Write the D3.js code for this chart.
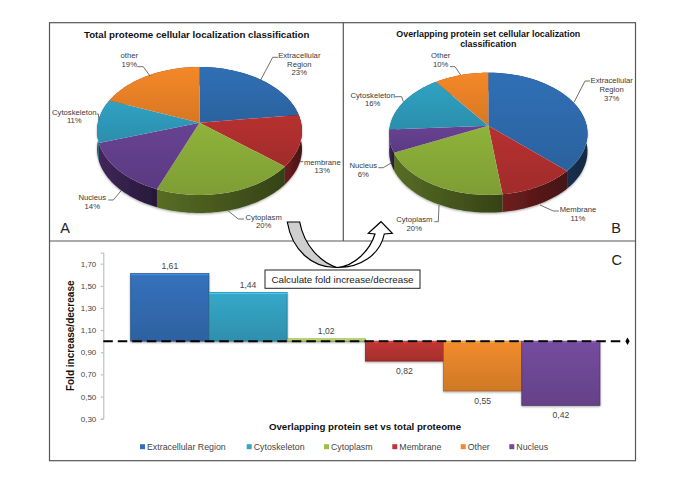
<!DOCTYPE html>
<html>
<head>
<meta charset="utf-8">
<script src="https://cdn.jsdelivr.net/npm/d3@7"></script>
<style>
  html, body { margin: 0; padding: 0; background: #fff; }
  svg { display: block; }
  text { font-family: "Liberation Sans", Arial, sans-serif; fill: #3a3a3a; }
</style>
</head>
<body>
<svg id="chart" width="685" height="484"></svg>
<script>
// Pie A data
const totalNames = ["Extracellular Region", "membrane", "Cytoplasm", "Nucleus", "Cytoskeleton", "other"];
const totalValues = [23, 13, 20, 14, 11, 19];
const totalColors = ["#2f6cb0", "#b2302f", "#8bae39", "#65408f", "#2f9dbe", "#ee8427"];

// Pie B data
const overlapNames = ["Extracellular Region", "Membrane", "Cytoplasm", "Nucleus", "Cytoskeleton", "Other"];
const overlapValues = [37, 11, 20, 6, 16, 10];
const overlapColors = ["#2f6cb0", "#b2302f", "#8bae39", "#65408f", "#2f9dbe", "#ee8427"];

// Bar data
const foldNames = ["Extracellular Region", "Cytoskeleton", "Cytoplasm", "Membrane", "Other", "Nucleus"];
const foldValues = [1.61, 1.44, 1.02, 0.82, 0.55, 0.42];
const foldColors = ["#3470b8", "#35a5c6", "#9dbf4a", "#bd3533", "#ee8a2c", "#744b9c"];
const foldTicks = [1.7, 1.5, 1.3, 1.1, 0.9, 0.7, 0.5, 0.3];

const svg = d3.select("#chart");
const defs = svg.append("defs");
const comma = d3.format(".2f");
const decimal = v => comma(v).replace(".", ",");

// Soft shadow under the bars and pies
const shadow = defs.append("filter").attr("id", "shadow")
  .attr("x", "-10%").attr("y", "-10%").attr("width", "120%").attr("height", "125%");
shadow.append("feDropShadow")
  .attr("dx", 0).attr("dy", 1).attr("stdDeviation", 1.2)
  .attr("flood-color", "#000").attr("flood-opacity", 0.35);

function gradient(id, x2, y2, stops) {
  const g = defs.append("linearGradient").attr("id", id)
    .attr("x1", 0).attr("y1", 0).attr("x2", x2).attr("y2", y2);
  stops.forEach(s => g.append("stop").attr("offset", s[0]).attr("stop-color", s[1]));
  return "url(#" + id + ")";
}

// Frame
const frame = svg.append("g").attr("fill", "none").attr("stroke", "#565656").attr("stroke-width", 1.2);
frame.append("rect").attr("x", 49.5).attr("y", 22.7).attr("width", 586).attr("height", 438);
frame.append("line").attr("x1", 343.3).attr("x2", 343.3).attr("y1", 22.7).attr("y2", 241);
frame.append("line").attr("x1", 49.5).attr("x2", 635.5).attr("y1", 241).attr("y2", 241);

// Tilted pie: the disc goes through a small perspective so that the apex sits above the ellipse centre
function drawPie(id, names, values, colors, o) {
  const g = svg.append("g");
  const project = (a, r) => {
    const u = Math.sin(a) * r, v = -Math.cos(a) * r;
    const s = 1 / (1 - o.p * v);
    return [o.cx + o.a * u * s, o.cy + o.b * v * s];
  };
  const line = d3.line();
  const slices = d3.pie().sort(null)(values);

  // Rim first, the top faces then hide its back half
  const rim = g.append("g").attr("filter", "url(#shadow)");
  slices.forEach((d, i) => {
    const steps = d3.range(0, 41).map(k => d.startAngle + (d.endAngle - d.startAngle) * k / 40);
    const top = steps.map(a => project(a, 1));
    const bottom = top.map(p => [p[0], p[1] + o.depth]).reverse();
    const c = d3.color(colors[i]);
    rim.append("path")
      .attr("d", line(top.concat(bottom)) + "Z")
      .attr("fill", gradient(id + "-rim-" + i, 1, 0, [[0, c.darker(1.3)], [1, c.darker(2.7)]]));
  });

  slices.forEach((d, i) => {
    const steps = d3.range(0, 41).map(k => d.startAngle + (d.endAngle - d.startAngle) * k / 40);
    const c = d3.color(colors[i]);
    g.append("path")
      .attr("d", line([[o.cx, o.cy]].concat(steps.map(a => project(a, 1)))) + "Z")
      .attr("fill", gradient(id + "-top-" + i, 0, 1, [[0, c.brighter(0.08)], [1, c.darker(0.28)]]));
  });

  // Leader lines and data labels
  o.labels.forEach((l, i) => {
    g.append("path").attr("d", line(l.leader))
      .attr("fill", "none").attr("stroke", "#333").attr("stroke-width", 0.7);
    const lines = l.text.concat([values[i] + "%"]);
    const t = g.append("text").attr("text-anchor", "middle").attr("font-size", 7.7);
    lines.forEach((s, k) => {
      t.append("tspan").attr("x", l.x).attr("y", l.y + k * 8.7 + 2.8).text(s);
    });
  });
}

// Label layout, pie A
drawPie("a", totalNames, totalValues, totalColors, {
  cx: 199.5, cy: 122.7, a: 101.6, b: 62.9, p: 0.13, depth: 18,
  labels: [
    { text: ["Extracellular", "Region"], x: 299.3, y: 55, leader: [[278, 57.3], [272.7, 57.3], [260.7, 80]] },
    { text: ["membrane"], x: 322.3, y: 161.7, leader: [[303.3, 161.7], [300.7, 161.7], [297.7, 156]] },
    { text: ["Cytoplasm"], x: 263.7, y: 216.7, leader: [[244, 219], [238.3, 219], [228.3, 211]] },
    { text: ["Nucleus"], x: 92.3, y: 197, leader: [[108.3, 200], [113.3, 200], [121.7, 190]] },
    { text: ["Cytoskeleton"], x: 74.3, y: 111.7, leader: [[96.7, 114], [98.3, 114], [99, 120]] },
    { text: ["other"], x: 129.3, y: 55.3, leader: [[137.3, 66.7], [143.3, 66.7], [150, 76]] }
  ]
});

// Label layout, pie B
drawPie("b", overlapNames, overlapValues, overlapColors, {
  cx: 488.3, cy: 125.7, a: 98.3, b: 60, p: 0.133, depth: 17.7,
  labels: [
    { text: ["Extracellular", "Region"], x: 611.7, y: 80.3, leader: [[590, 81], [585, 81], [574, 102.3]] },
    { text: ["Membrane"], x: 578, y: 209.3, leader: [[559, 211], [553.3, 211], [540, 205]] },
    { text: ["Cytoplasm"], x: 414.3, y: 219.3, leader: [[434.3, 221.7], [438.3, 221.7], [439, 205]] },
    { text: ["Nucleus"], x: 363.3, y: 165.3, leader: [[378.3, 167.7], [383.3, 167.7], [393.3, 161.7]] },
    { text: ["Cytoskeleton"], x: 372.7, y: 94.7, leader: [[395, 96.7], [401.7, 96.7], [403.3, 101.7]] },
    { text: ["Other"], x: 440.7, y: 55.3, leader: [[450, 66.7], [455, 66.7], [460.7, 75]] }
  ]
});

// Panel titles and letters
const titles = svg.append("g").attr("text-anchor", "middle").attr("font-weight", "bold");
titles.append("text").attr("x", 196.7).attr("y", 37.6).attr("font-size", 9.7).style("fill", "#111")
  .text("Total proteome cellular localization classification");
titles.append("text").attr("x", 488.3).attr("y", 37.2).attr("font-size", 8.9).style("fill", "#111")
  .text("Overlapping protein set cellular localization");
titles.append("text").attr("x", 488.3).attr("y", 47.2).attr("font-size", 8.9).style("fill", "#111")
  .text("classification");

const letters = [["A", 65, 233], ["B", 616, 232.5], ["C", 616.7, 265.2]];
svg.append("g").selectAll("text").data(letters).enter().append("text")
  .attr("x", d => d[1]).attr("y", d => d[2])
  .attr("text-anchor", "middle").attr("font-size", 14.5).style("fill", "#222")
  .text(d => d[0]);

// Bar chart scales
const x = d3.scaleBand().domain(foldNames).range([130.7, 600]).padding(0);
const y = d3.scaleLinear().domain([0.3, 1.8]).range([418.7, 252.6]);

// Y axis
const yAxis = svg.append("g")
  .attr("transform", "translate(103.3,0)")
  .call(d3.axisLeft(y).tickValues(foldTicks).tickSize(2.5).tickPadding(4.5).tickFormat(d => decimal(d)));
yAxis.selectAll("path, line").attr("stroke", "#b5b5b5");
yAxis.selectAll("text").attr("font-size", 8).style("fill", "#444");
yAxis.attr("font-family", null);

// Bars, hanging from the 1,00 baseline
const bars = svg.append("g").attr("filter", "url(#shadow)");
foldNames.forEach((name, i) => {
  const v = foldValues[i];
  const c = d3.color(foldColors[i]);
  const top = Math.min(y(v), y(1));
  const h = Math.abs(y(v) - y(1));
  bars.append("rect")
    .attr("x", x(name)).attr("y", top)
    .attr("width", x.bandwidth()).attr("height", h)
    .attr("fill", gradient("bar-" + i, 0, 1, [[0, c.brighter(0.05)], [1, c.darker(0.4)]]))
    .attr("stroke", c.darker(1.1)).attr("stroke-width", 0.7);
  // Light bevel along the top edge
  bars.append("rect")
    .attr("x", x(name) + 0.3).attr("y", top + 0.3)
    .attr("width", x.bandwidth() - 0.6).attr("height", Math.min(1.3, h))
    .attr("fill", c.brighter(0.6));
});

// Value labels
svg.append("g").selectAll("text").data(foldValues).enter().append("text")
  .attr("x", (d, i) => x(foldNames[i]) + x.bandwidth() / 2)
  .attr("y", d => y(d) + (d > 1 ? -7.7 : 9.8) + 3)
  .attr("text-anchor", "middle").attr("font-size", 8.6).style("fill", "#444")
  .text(d => decimal(d));

// Baseline at 1,00
svg.append("line")
  .attr("x1", 103.3).attr("x2", 625).attr("y1", y(1)).attr("y2", y(1))
  .attr("stroke", "#000").attr("stroke-width", 2).attr("stroke-dasharray", "9.5,5");
svg.append("path")
  .attr("transform", "translate(627.5," + y(1) + ")")
  .attr("d", d3.symbol().type(d3.symbolDiamond).size(16)())
  .attr("fill", "#000");

// Axis titles
svg.append("text")
  .attr("transform", "translate(73.5,335.8)rotate(-90)")
  .attr("text-anchor", "middle").attr("font-size", 10).attr("font-weight", "bold")
  .style("fill", "#111").text("Fold increase/decrease");
svg.append("text")
  .attr("x", 365).attr("y", 429.5)
  .attr("text-anchor", "middle").attr("font-size", 9.7).attr("font-weight", "bold")
  .style("fill", "#111").text("Overlapping protein set vs total proteome");

// Legend
const legendX = [140, 246.7, 324, 392.3, 460.7, 509.3];
const legend = svg.append("g").selectAll("g").data(foldNames).enter().append("g")
  .attr("transform", (d, i) => "translate(" + legendX[i] + ",446.7)");
legend.append("rect")
  .attr("x", 0).attr("y", -2.5).attr("width", 5).attr("height", 5)
  .attr("fill", (d, i) => foldColors[i]);
legend.append("text")
  .attr("x", 7).attr("y", 3.3).attr("font-size", 8.8).style("fill", "#444")
  .text(d => d);

// Curved arrow between the two pies
const arrow = svg.append("g").attr("stroke", "#000").attr("stroke-width", 1.2).attr("stroke-linejoin", "miter");
arrow.append("path")
  .attr("d", "M287.3,222 C292,250 312,268 337,267.5 C320,262 304,245 299.7,222 Z")
  .attr("fill", "#cfcfcf");
arrow.append("path")
  .attr("d", "M337,267.5 C360,268 380,255 384.3,234 L392.3,233.3 L381,221.7 L368.3,233.3 L375,234 C370,250 355,266 337,267.5 Z")
  .attr("fill", "#fff");

// Box under the arrow
svg.append("rect")
  .attr("x", 265).attr("y", 270).attr("width", 155).attr("height", 18.3)
  .attr("fill", "#fff").attr("stroke", "#222").attr("stroke-width", 1);
svg.append("text")
  .attr("x", 342.5).attr("y", 282.8)
  .attr("text-anchor", "middle").attr("font-size", 9.8).style("fill", "#222")
  .text("Calculate fold increase/decrease");
</script>
</body>
</html>
